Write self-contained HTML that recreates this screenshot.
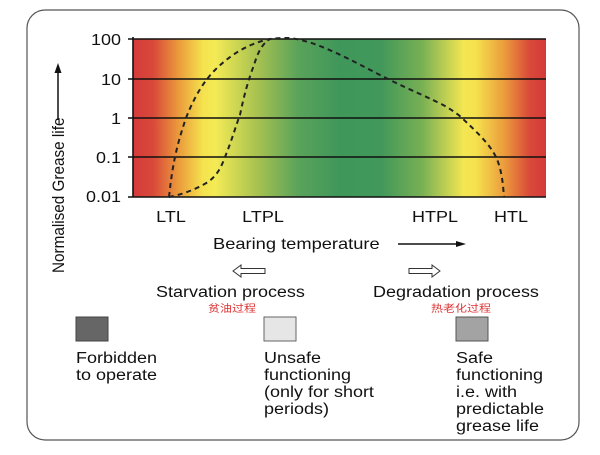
<!DOCTYPE html>
<html><head><meta charset="utf-8"><style>
body{margin:0;background:#fff;width:600px;height:450px;overflow:hidden;font-family:"Liberation Sans","Noto Sans CJK SC",sans-serif}
</style></head><body>
<svg width="600" height="450" viewBox="0 0 600 450" xmlns="http://www.w3.org/2000/svg" font-family="Liberation Sans, Noto Sans CJK SC, sans-serif">
<defs>
<linearGradient id="g" x1="0" x2="1" y1="0" y2="0">
<stop offset="0" stop-color="#d43a3a"/>
<stop offset="0.05" stop-color="#d94a3a"/>
<stop offset="0.11" stop-color="#eb9a3c"/>
<stop offset="0.17" stop-color="#f5e34e"/>
<stop offset="0.2" stop-color="#f3ea55"/>
<stop offset="0.3" stop-color="#a8c250"/>
<stop offset="0.4" stop-color="#5aa35a"/>
<stop offset="0.5" stop-color="#3f975a"/>
<stop offset="0.6" stop-color="#41985a"/>
<stop offset="0.7" stop-color="#78b054"/>
<stop offset="0.8" stop-color="#f3e652"/>
<stop offset="0.83" stop-color="#f5e24e"/>
<stop offset="0.9" stop-color="#eb9a3c"/>
<stop offset="0.96" stop-color="#d94a3a"/>
<stop offset="1" stop-color="#d43a3a"/>
</linearGradient>
</defs>
<rect x="27" y="10" width="552" height="430" rx="18" fill="none" stroke="#555" stroke-width="1.2"/>
<rect x="133" y="39" width="413" height="158" fill="url(#g)"/>
<g stroke="#111" stroke-width="1.6">
<line x1="128" y1="39" x2="546" y2="39"/>
<line x1="128" y1="79" x2="546" y2="79"/>
<line x1="128" y1="118" x2="546" y2="118"/>
<line x1="128" y1="157" x2="546" y2="157"/>
<line x1="128" y1="197" x2="546" y2="197"/>
<line x1="133" y1="37" x2="133" y2="197"/>
</g>
<g font-size="18" fill="#111" text-anchor="end">
<text transform="translate(121,45) scale(1,0.85)">100</text>
<text transform="translate(121,85) scale(1,0.85)">10</text>
<text transform="translate(121,124) scale(1,0.85)">1</text>
<text transform="translate(121,163) scale(1,0.85)">0.1</text>
<text transform="translate(121,202) scale(1,0.85)">0.01</text>
</g>
<g fill="none" stroke="#222" stroke-width="2" stroke-dasharray="5,4">
<path d="M169 197 C172 170 175 150 186 118 C195 95 205 80 215 70 C235 50 255 42 270 39 C278 38 283 38 290 38 C320 42 350 60 388 79 C410 90 430 98 445 106 C455 112 460 116 462 118 C480 135 490 145 496 157 C502 170 503 185 504 197"/>
<path d="M169 197 C180 195 195 190 208 182 C218 175 222 165 225 157 C232 140 236 125 240 115 C244 95 249 78 254 65 C258 52 262 44 270 39"/>
</g>
<g font-size="18" fill="#111" text-anchor="middle">
<text transform="translate(171,222) scale(1,0.85)">LTL</text>
<text transform="translate(263,222) scale(1,0.85)">LTPL</text>
<text transform="translate(435,222) scale(1,0.85)">HTPL</text>
<text transform="translate(511,222) scale(1,0.85)">HTL</text>
</g>
<text transform="translate(213,249) scale(1,0.85)" font-size="18.3" fill="#111">Bearing temperature</text>
<line x1="398" y1="244" x2="458" y2="244" stroke="#111" stroke-width="1.5"/>
<polygon points="466,244 456,241 456,247" fill="#111"/>
<g transform="translate(64,273) rotate(-90)">
<text transform="scale(0.9,1)" x="0" y="0" font-size="17" fill="#111">Normalised Grease life</text>
<line x1="153" y1="-6" x2="202" y2="-6" stroke="#111" stroke-width="1.5"/>
<polygon points="210,-6 200,-9.5 200,-2.5" fill="#111"/>
</g>
<polygon points="233,271 241,265 241,268.5 265,268.5 265,273.5 241,273.5 241,277" fill="#fff" stroke="#333" stroke-width="1"/>
<polygon points="440,271 432,265 432,268.5 409,268.5 409,273.5 432,273.5 432,277" fill="#fff" stroke="#333" stroke-width="1"/>
<g font-size="18" fill="#111">
<text transform="translate(156,297) scale(1,0.85)">Starvation process</text>
<text transform="translate(373,297) scale(1,0.85)">Degradation process</text>
</g>
<text transform="translate(208,312) scale(1,0.85)" font-size="12" fill="#d33">贫油过程</text>
<text transform="translate(431,312) scale(1,0.85)" font-size="12" fill="#d33">热老化过程</text>
<rect x="76" y="317" width="32" height="24" fill="#666" stroke="#444"/>
<rect x="264" y="317" width="32" height="24" fill="#e6e6e6" stroke="#666"/>
<rect x="456" y="317" width="32" height="24" fill="#a3a3a3" stroke="#555"/>
<g font-size="18" fill="#111">
<text transform="translate(76,363) scale(1,0.85)">Forbidden</text>
<text transform="translate(76,380) scale(1,0.85)">to operate</text>
<text transform="translate(264,363) scale(1,0.85)">Unsafe</text>
<text transform="translate(264,380) scale(1,0.85)">functioning</text>
<text transform="translate(264,397) scale(1,0.85)">(only for short</text>
<text transform="translate(264,414) scale(1,0.85)">periods)</text>
<text transform="translate(456,363) scale(1,0.85)">Safe</text>
<text transform="translate(456,380) scale(1,0.85)">functioning</text>
<text transform="translate(456,397) scale(1,0.85)">i.e. with</text>
<text transform="translate(456,414) scale(1,0.85)">predictable</text>
<text transform="translate(456,431) scale(1,0.85)">grease life</text>
</g>
</svg>
</body></html>
